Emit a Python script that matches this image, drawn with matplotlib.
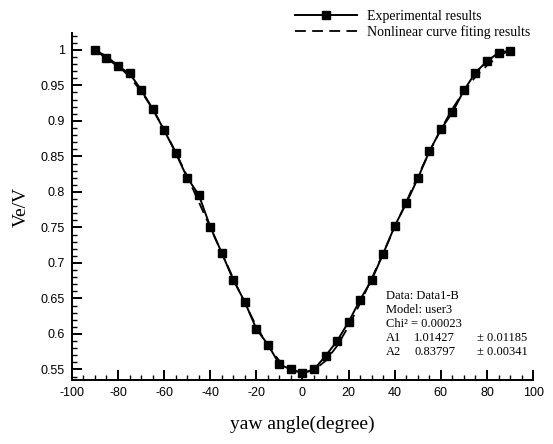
import matplotlib.pyplot as plt
from matplotlib.ticker import MultipleLocator

plt.rcParams["axes.unicode_minus"] = False

# yaw angle (degree) and measured Ve/V
angle = [-90, -85, -80, -75, -70, -65, -60, -55, -50, -45, -40, -35, -30,
         -25, -20, -15, -10, -5, 0, 5, 10, 15, 20, 25, 30, 35, 40, 45, 50,
         55, 60, 65, 70, 75, 80, 85, 90]
measured = [1.000, 0.988, 0.977, 0.967, 0.944, 0.917, 0.887, 0.855, 0.820,
            0.796, 0.751, 0.714, 0.676, 0.645, 0.607, 0.585, 0.557, 0.550,
            0.545, 0.550, 0.569, 0.590, 0.617, 0.648, 0.676, 0.713, 0.752,
            0.784, 0.819, 0.857, 0.888, 0.912, 0.943, 0.968, 0.984, 0.996,
            0.999]
# fitted curve values read at the same angles
fitted = [1.000, 0.991, 0.978, 0.962, 0.942, 0.917, 0.888, 0.856, 0.822,
          0.786, 0.750, 0.714, 0.678, 0.643, 0.611, 0.583, 0.562, 0.549,
          0.545, 0.549, 0.562, 0.583, 0.611, 0.643, 0.678, 0.714, 0.750,
          0.786, 0.822, 0.856, 0.888, 0.917, 0.942, 0.962, 0.978, 0.991,
          1.000]

fit_info = [("Data: Data1-B", "", ""),
            ("Model: user3", "", ""),
            ("Chi² = 0.00023", "", ""),
            ("A1", "1.01427", "± 0.01185"),
            ("A2", "0.83797", "± 0.00341")]

serif = "Liberation Serif"
sans = "Liberation Sans"

fig = plt.figure(figsize=(5.53, 4.44), dpi=100)
ax = fig.add_axes([0.130, 0.144, 0.834, 0.782])

ax.plot(angle, measured, color="black", lw=1.4, marker="s", ms=6,
        label="Experimental results")
ax.plot(angle, fitted, color="black", lw=1.3, ls=(0, (6, 3.5)),
        label="Nonlinear curve fiting results")

ax.set_xlim(-100, 100)
ax.set_ylim(0.535, 1.024)
ax.xaxis.set_major_locator(MultipleLocator(20))
ax.xaxis.set_minor_locator(MultipleLocator(5))
ax.yaxis.set_minor_locator(MultipleLocator(0.01))
ax.set_yticks([0.55, 0.6, 0.65, 0.7, 0.75, 0.8, 0.85, 0.9, 0.95, 1.0])
ax.set_yticklabels(["0.55", "0.6", "0.65", "0.7", "0.75", "0.8", "0.85",
                    "0.9", "0.95", "1"])

for s in ["top", "right"]:
    ax.spines[s].set_visible(False)
for s in ["left", "bottom"]:
    ax.spines[s].set_linewidth(1.4)

ax.tick_params(which="major", direction="in", length=7, width=1.4,
               labelsize=9, pad=5)
ax.tick_params(which="minor", direction="in", length=3.5, width=1.0)
for lab in ax.get_xticklabels() + ax.get_yticklabels():
    lab.set_fontfamily(sans)

ax.set_xlabel("yaw angle(degree)", fontfamily=serif, fontsize=14, labelpad=12)
ax.set_ylabel("Ve/V", fontfamily=serif, fontsize=14, labelpad=8)

fig.legend(loc="upper left", bbox_to_anchor=(0.533, 0.978),
           frameon=False, handlelength=4.5,
           prop={"family": serif, "size": 10}, labelspacing=0.15,
           borderaxespad=0, borderpad=0, handletextpad=0.72)

# fit parameters text
y0 = 0.242
for i, (a, b, c) in enumerate(fit_info):
    yy = y0 - i * 0.040
    ax.text(0.680, yy, a, transform=ax.transAxes, fontfamily=serif,
            fontsize=9, va="center")
    if b:
        ax.text(0.742, yy, b, transform=ax.transAxes, fontfamily=serif,
                fontsize=9, va="center")
        ax.text(0.879, yy, c, transform=ax.transAxes, fontfamily=serif,
                fontsize=9, va="center")

fig.savefig("out.png", dpi=100)
